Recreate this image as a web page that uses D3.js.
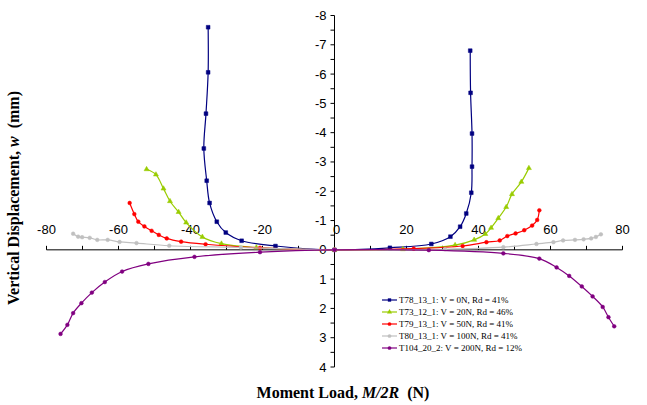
<!DOCTYPE html>
<html>
<head>
<meta charset="utf-8">
<script src="https://cdn.jsdelivr.net/npm/d3@7"></script>
<style>
  body { margin: 0; background: #fff; }
  svg { display: block; }
  .tick-label { font-family: Arial, "Liberation Sans", sans-serif; font-size: 13px; fill: #000; }
  .title { font-family: "Times New Roman", "Liberation Serif", serif; font-weight: bold; font-size: 16px; fill: #000; }
  .legend-text { font-family: "Times New Roman", "Liberation Serif", serif; font-size: 9px; fill: #000; }
</style>
</head>
<body>
<div id="chart"></div>
<script>
// moment load M/2R (N) and vertical displacement w (mm)
var names = [
  "T78_13_1: V = 0N, Rd = 41%",
  "T73_12_1: V = 20N, Rd = 46%",
  "T79_13_1: V = 50N, Rd = 41%",
  "T80_13_1: V = 100N, Rd = 41%",
  "T104_20_2: V = 200N, Rd = 12%"
];
var colors = ["#000080", "#99cc00", "#ff0000", "#c0c0c0", "#800080"];
var symbols = [d3.symbolSquare, d3.symbolTriangle, d3.symbolCircle, d3.symbolCircle, d3.symbolCircle];

var t78M = [-35.1, -35.1, -35.7, -36.3, -35.5, -34.7, -32.7, -30.2, -25.8, -16.4, 0, 15.4, 26.9, 32.2, 34.9, 36.6, 38.0, 38.2, 38.2, 37.8, 37.7];
var t78W = [-7.60, -6.06, -4.65, -3.46, -2.36, -1.60, -0.96, -0.59, -0.31, -0.13, 0, -0.07, -0.20, -0.45, -0.79, -1.24, -1.95, -2.84, -3.97, -5.36, -6.80];

var t73M = [-52.2, -49.6, -47.5, -45.7, -43.3, -41.2, -36.7, -31.4, -21.7, 0, 19.0, 33.5, 38.8, 41.9, 43.5, 45.5, 47.7, 49.3, 51.9, 54.0];
var t73W = [-2.75, -2.57, -2.09, -1.66, -1.29, -0.93, -0.44, -0.21, -0.08, 0, -0.02, -0.16, -0.34, -0.54, -0.75, -1.08, -1.46, -1.90, -2.32, -2.79];

var t79M = [-56.9, -55.6, -54.5, -52.8, -50.8, -48.8, -46.6, -42.6, -35.8, -20.7, 0, 22.0, 35.6, 42.2, 45.9, 48.0, 50.3, 52.7, 54.9, 56.3, 56.9];
var t79W = [-1.60, -1.22, -0.96, -0.80, -0.65, -0.51, -0.39, -0.28, -0.19, -0.07, 0, -0.04, -0.13, -0.26, -0.32, -0.47, -0.56, -0.67, -0.83, -1.02, -1.35];

var t80M = [-72.6, -71.2, -70.1, -68.0, -65.9, -63.0, -59.7, -55.0, -45.9, -26.0, 0, 30.7, 46.9, 56.1, 60.8, 63.5, 66.8, 69.2, 71.3, 72.6, 74.0];
var t80W = [-0.55, -0.45, -0.43, -0.41, -0.34, -0.34, -0.27, -0.23, -0.14, -0.08, 0, -0.02, -0.09, -0.20, -0.26, -0.32, -0.34, -0.36, -0.39, -0.44, -0.53];

var t104M = [-76.1, -74.2, -72.6, -70.3, -67.4, -63.8, -59.0, -51.7, -38.9, -20.7, 0, 26.2, 46.9, 56.9, 61.7, 65.2, 68.7, 71.7, 74.5, 76.1, 77.7];
var t104W = [2.87, 2.56, 2.16, 1.82, 1.46, 1.10, 0.74, 0.48, 0.24, 0.08, 0, 0.01, 0.12, 0.30, 0.60, 0.89, 1.25, 1.59, 1.95, 2.30, 2.61];

var xTicks = [-80, -60, -40, -20, 0, 20, 40, 60, 80];
var yTicks = [-8, -7, -6, -5, -4, -3, -2, -1, 0, 1, 2, 3, 4];

var seriesM = [t78M, t73M, t79M, t80M, t104M];
var seriesW = [t78W, t73W, t79W, t80W, t104W];

var width = 647, height = 405;
var svg = d3.select("#chart").append("svg").attr("width", width).attr("height", height);

var x = d3.scaleLinear().domain([-80, 80]).range([46.5, 622.5]);
var y = d3.scaleLinear().domain([-8, 4]).range([15.5, 367]);

// x axis along w = 0, ticks every 10 pointing up
var xAxis = svg.append("g").attr("transform", "translate(0," + y(0) + ")");
xAxis.append("line").attr("x1", x(-80)).attr("x2", x(80)).attr("stroke", "#000");
xAxis.selectAll(".xt").data(d3.range(-80, 81, 10)).enter().append("line")
  .attr("x1", function(d) { return x(d); }).attr("x2", function(d) { return x(d); })
  .attr("y1", 0).attr("y2", -4).attr("stroke", "#000");
xAxis.selectAll(".xl").data(xTicks).enter().append("text")
  .attr("class", "tick-label")
  .attr("text-anchor", "middle")
  .attr("x", function(d) { return d === 0 ? x(d) + 2 : x(d); })
  .attr("y", -16)
  .text(function(d) { return d; });

// y axis along M = 0, major ticks every 1, minor every 0.5
var yAxis = svg.append("g").attr("transform", "translate(" + x(0) + ",0)");
yAxis.append("line").attr("y1", y(-8)).attr("y2", y(4)).attr("stroke", "#000");
yAxis.selectAll(".yt").data(d3.range(-8, 4.01, 0.5)).enter().append("line")
  .attr("y1", function(d) { return y(d); }).attr("y2", function(d) { return y(d); })
  .attr("x1", 0).attr("x2", -4).attr("stroke", "#000");
yAxis.selectAll(".yl").data(yTicks).enter().append("text")
  .attr("class", "tick-label")
  .attr("text-anchor", "end")
  .attr("x", -8)
  .attr("y", function(d) { return y(d) + 4.5; })
  .text(function(d) { return d; });

var line = d3.line()
  .x(function(d) { return x(d[0]); })
  .y(function(d) { return y(d[1]); })
  .curve(d3.curveCatmullRom);

seriesM.forEach(function(ms, i) {
  var pts = ms.map(function(m, j) { return [m, seriesW[i][j]]; });
  var g = svg.append("g");
  g.append("path")
    .attr("d", line(pts))
    .attr("fill", "none")
    .attr("stroke", colors[i])
    .attr("stroke-width", 1.2);
  g.selectAll("path.pt").data(pts).enter().append("path")
    .attr("class", "pt")
    .attr("transform", function(d) { return "translate(" + x(d[0]) + "," + y(d[1]) + ")"; })
    .attr("d", d3.symbol().type(symbols[i]).size(i === 0 ? 14 : 11))
    .attr("fill", colors[i])
    .attr("stroke", colors[i])
    .attr("stroke-width", 0.5);
});

// legend
var legend = svg.append("g").attr("transform", "translate(382,300)");
names.forEach(function(n, i) {
  var row = legend.append("g").attr("transform", "translate(0," + (i * 12) + ")");
  row.append("line").attr("x1", 0).attr("x2", 15).attr("stroke", colors[i]).attr("stroke-width", 1.2);
  row.append("path").attr("transform", "translate(7.5,0)")
    .attr("d", d3.symbol().type(symbols[i]).size(11))
    .attr("fill", colors[i]);
  row.append("text").attr("class", "legend-text").attr("x", 17).attr("y", 3).text(n);
});

// axis titles
var xt = svg.append("text").attr("class", "title").attr("x", 343).attr("y", 398).attr("text-anchor", "middle");
xt.append("tspan").text("Moment Load, ");
xt.append("tspan").attr("font-style", "italic").text("M/2R");
xt.append("tspan").text("\u00a0 (N)");

var yt = svg.append("text").attr("class", "title")
  .attr("text-anchor", "middle")
  .attr("transform", "translate(19,198) rotate(-90)");
yt.append("tspan").text("Vertical Displacement, ");
yt.append("tspan").attr("font-style", "italic").text("w");
yt.append("tspan").text("\u00a0 (mm)");
</script>
</body>
</html>
